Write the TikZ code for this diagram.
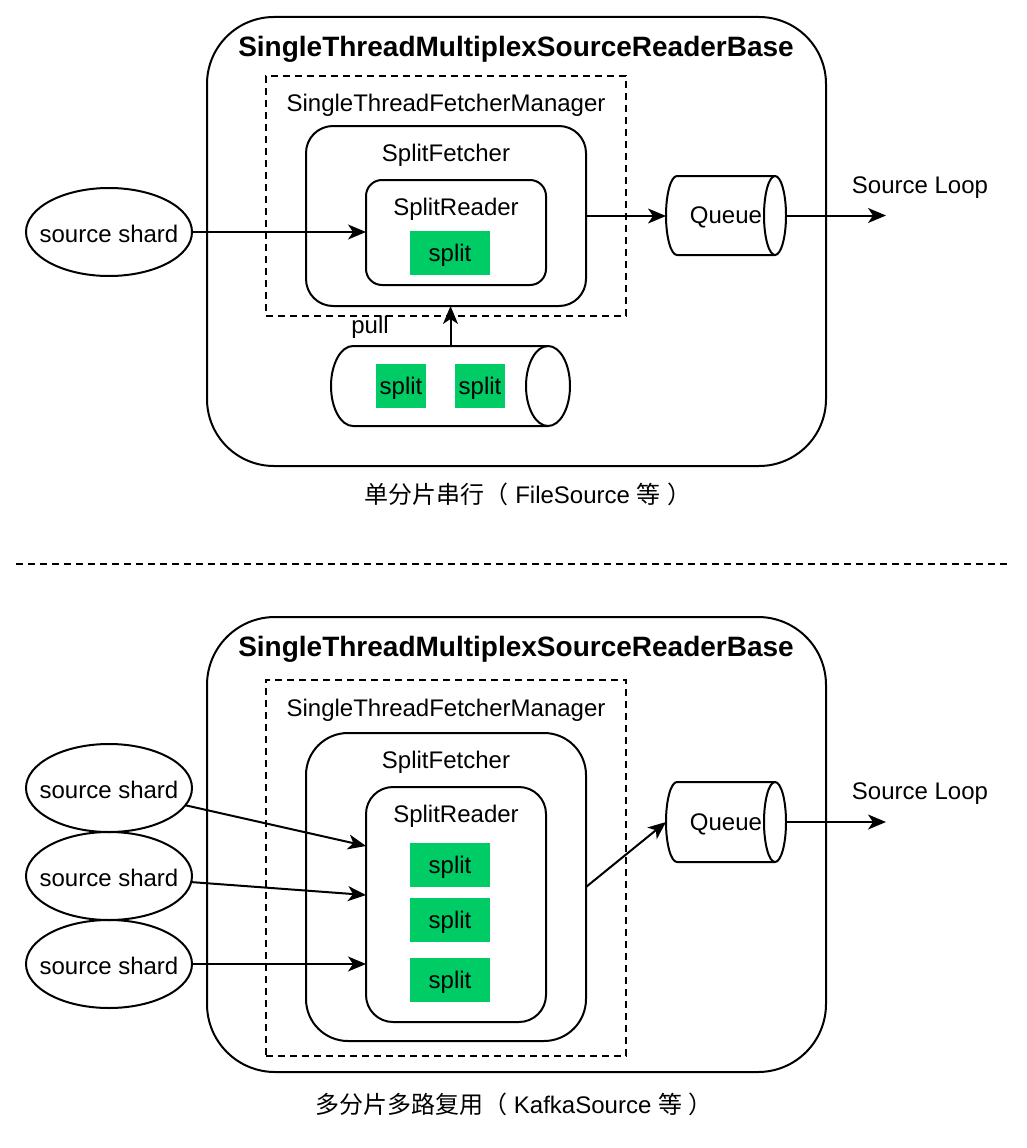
\documentclass[tikz,border=0pt]{standalone}
\usepackage{fontspec}
\setmainfont{Liberation Sans}
\newfontfamily\cjk{Noto Sans CJK SC}
\usetikzlibrary{arrows.meta,shapes.geometric}
\definecolor{splitgreen}{HTML}{00CC66}
\newcommand\drawcyl[5]{%
  \pgfmathsetmacro\cyr{(#4-#2)/2}%
  \draw[thick line] (#1+#5,#2) -- (#3-#5,#2)
     arc[start angle=90,end angle=-90,x radius=#5 pt,y radius=\cyr pt]
     -- (#1+#5,#4)
     arc[start angle=270,end angle=90,x radius=#5 pt,y radius=\cyr pt] -- cycle;
  \draw[thick line] (#3-#5,#2) arc[start angle=90,end angle=270,x radius=#5 pt,y radius=\cyr pt];
}
\begin{document}
\begin{tikzpicture}[x=1pt,y=-1pt,
  every node/.style={font=\fontsize{24}{28}\selectfont, inner sep=0pt, outer sep=0pt},
  txt/.style={yshift=-2pt},
  thick line/.style={line width=2pt},
  arr/.style={line width=2pt,-{Stealth[length=18pt,width=15pt,inset=5pt]}},
  rbox/.style={draw, line width=2pt, rectangle},
  dbox/.style={draw, line width=2pt, dash pattern=on 7pt off 5pt, rectangle},
  splitbox/.style={fill=splitgreen, rectangle},
  shard/.style={draw, line width=2pt, ellipse, minimum width=166pt, minimum height=88pt},
  title/.style={font=\fontsize{28}{32}\selectfont\bfseries, yshift=-2pt},
  ghost/.style={rectangle, draw=none}
]
\useasboundingbox (0,0) rectangle (1026,1148);

% ================= top =================
\node[rbox, rounded corners=67pt, minimum width=619pt, minimum height=449pt] (outer0) at (516.5,241.5) {};
\node[title] (title0) at (516,47) {SingleThreadMultiplexSourceReaderBase};
\node[dbox, minimum width=360pt, minimum height=240pt] (fm0) at (446,196) {};
\node[txt] (fmlabel0) at (446,103) {SingleThreadFetcherManager};
\node[rbox, rounded corners=27pt, minimum width=280pt, minimum height=180pt] (sf0) at (446,216) {};
\node[txt] (sflabel0) at (446,153) {SplitFetcher};
\node[rbox, rounded corners=16pt, minimum width=180pt, minimum height=105pt] (sr0) at (456,232.5) {};
\node[txt] (srlabel0) at (456,207) {SplitReader};
\node[splitbox, minimum width=80pt, minimum height=44pt] (sp0) at (450,253) {};
\node[txt] (sp0t) at (sp0) {split};

\node[shard] (s0) at (109,232) {};
\node[txt] (s0t) at (109,232) {source shard};
\draw[arr] (s0.east) -- (s0.east -| sr0.west);

% queue
\node[ghost, minimum width=120pt, minimum height=79pt] (q0) at (726,215.5) {};
\drawcyl{666}{176}{786}{255}{11}
\node[txt] (q0t) at (726,215) {Queue};
\draw[arr] (sf0.east) -- (sf0.east -| q0.west);
\coordinate (loop0) at (886,215.5);
\draw[arr] (q0.east) -- (loop0);
\node[txt] (sl0) at (920,186) {Source Loop};

% pull cylinder
\node[ghost, minimum width=239pt, minimum height=80pt] (pc) at (450.5,386) {};
\drawcyl{331}{346}{570}{426}{22}
\node[splitbox, minimum width=50pt, minimum height=44pt] (ps1) at (401,386) {};
\node[txt] (ps1t) at (ps1) {split};
\node[splitbox, minimum width=50pt, minimum height=44pt] (ps2) at (480,386) {};
\node[txt] (ps2t) at (ps2) {split};
\draw[arr] (pc.north) -- (pc.north |- sf0.south);
\node[txt] (pull) at (370,325) {pull};

\node[txt] (cap0) at (528,492) {{\cjk 单分片串行（} FileSource {\cjk 等} {\cjk ）}};

% divider
\coordinate (divL) at (16,564);
\coordinate (divR) at (1008,564);
\draw[line width=2pt, dash pattern=on 7pt off 5pt] (divL) -- (divR);

% ================= bottom =================
\node[rbox, rounded corners=68pt, minimum width=619pt, minimum height=455pt] (outer1) at (516.5,844.5) {};
\node[title] (title1) at (516,647) {SingleThreadMultiplexSourceReaderBase};
\node[dbox, minimum width=360pt, minimum height=376pt] (fm1) at (446,868) {};
\node[txt] (fmlabel1) at (446,708) {SingleThreadFetcherManager};
\node[rbox, rounded corners=42pt, minimum width=280pt, minimum height=308pt] (sf1) at (446,887) {};
\node[txt] (sflabel1) at (446,760) {SplitFetcher};
\node[rbox, rounded corners=27pt, minimum width=180pt, minimum height=235pt] (sr1) at (456,904.5) {};
\node[txt] (srlabel1) at (456,814) {SplitReader};
\node[splitbox, minimum width=80pt, minimum height=44pt] (sp1) at (450,865) {};
\node[txt] (sp1t) at (sp1) {split};
\node[splitbox, minimum width=80pt, minimum height=44pt] (sp2) at (450,920) {};
\node[txt] (sp2t) at (sp2) {split};
\node[splitbox, minimum width=80pt, minimum height=44pt] (sp3) at (450,980) {};
\node[txt] (sp3t) at (sp3) {split};

\node[shard] (s1) at (109,788) {};
\node[txt] (s1t) at (109,788) {source shard};
\node[shard] (s2) at (109,876) {};
\node[txt] (s2t) at (109,876) {source shard};
\node[shard] (s3) at (109,964) {};
\node[txt] (s3t) at (109,964) {source shard};
\coordinate (r1) at (366,846);
\coordinate (r2) at (366,895);
\coordinate (r3) at (366,964);
\draw[arr] (s1) -- (r1);
\draw[arr] (s2) -- (r2);
\draw[arr] (s3) -- (r3);

\node[ghost, minimum width=120pt, minimum height=80pt] (q1) at (726,822) {};
\drawcyl{666}{782}{786}{862}{11}
\node[txt] (q1t) at (726,822) {Queue};
\draw[arr] (sf1.east) -- (q1.west);
\coordinate (loop1) at (886,822);
\draw[arr] (q1.east) -- (loop1);
\node[txt] (sl1) at (920,792) {Source Loop};

\node[txt] (cap1) at (514,1102) {{\cjk 多分片多路复用（} KafkaSource {\cjk 等} {\cjk ）}};
\end{tikzpicture}
\end{document}
